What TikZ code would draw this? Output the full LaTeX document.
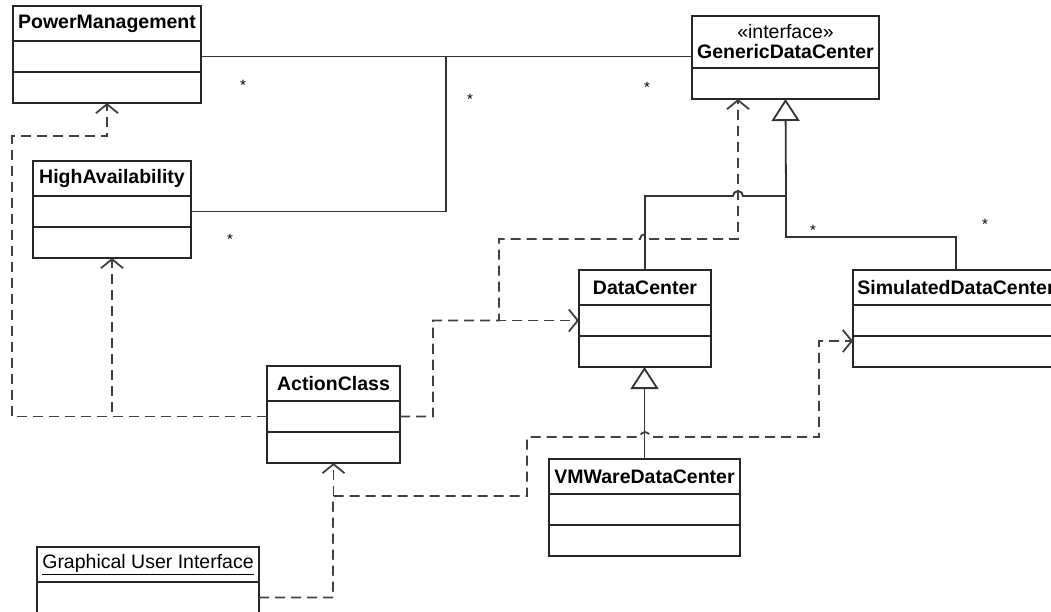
\documentclass[tikz,border=0pt]{standalone}
\usepackage{fontspec}
\setmainfont{Liberation Sans}
\usetikzlibrary{arrows.meta,positioning,calc}

\tikzset{
  cname/.style={draw=black!85, line width=1.9pt, fill=white, anchor=north west,
    minimum height=35pt, inner sep=0pt, outer sep=0pt,
    font=\fontsize{19.5}{21}\selectfont\bfseries},
  ccomp/.style={draw=black!85, line width=1.9pt, fill=white,
    minimum height=31pt, inner sep=0pt, outer sep=0pt},
  assoc/.style={draw=black!80, line width=1.8pt},
  gen/.style={assoc, -{Triangle[open, length=22pt, width=28pt, fill=white]}},
  dep/.style={draw=black!75, line width=1.8pt, dash pattern=on 10pt off 6pt,
    -{Straight Barb[length=9pt, width=22pt]}},
  mult/.style={font=\fontsize{15}{15}\selectfont, inner sep=0pt}
}

\begin{document}
\begin{tikzpicture}[x=1pt, y=1pt]

    \clip (0,0) rectangle (1051,-611);
    \fill[white] (0,0) rectangle (1051,-611);

    % classes
    \node[cname, minimum width=188pt] (pmT) at (13,-6) {PowerManagement};
    \node[ccomp, minimum width=188pt, below=0pt of pmT] (pmA) {};
    \node[ccomp, minimum width=188pt, below=0pt of pmA] (pmO) {};

    \node[cname, minimum width=158pt] (haT) at (33,-161) {HighAvailability};
    \node[ccomp, minimum width=158pt, below=0pt of haT] (haA) {};
    \node[ccomp, minimum width=158pt, below=0pt of haA] (haO) {};

    \node[cname, minimum width=187pt, minimum height=52pt, align=center] (gdcT) at (692,-16)
        {{\mdseries «interface»}\\[-1pt]GenericDataCenter};
    \node[ccomp, minimum width=187pt, below=0pt of gdcT] (gdcA) {};

    \node[cname, minimum width=132pt] (dcT) at (579,-270) {DataCenter};
    \node[ccomp, minimum width=132pt, below=0pt of dcT] (dcA) {};
    \node[ccomp, minimum width=132pt, below=0pt of dcA] (dcO) {};

    \node[cname, minimum width=206pt] (sdcT) at (853,-270) {SimulatedDataCenter};
    \node[ccomp, minimum width=206pt, below=0pt of sdcT] (sdcA) {};
    \node[ccomp, minimum width=206pt, below=0pt of sdcA] (sdcO) {};

    \node[cname, minimum width=133pt] (acT) at (267,-366) {ActionClass};
    \node[ccomp, minimum width=133pt, below=0pt of acT] (acA) {};
    \node[ccomp, minimum width=133pt, below=0pt of acA] (acO) {};

    \node[cname, minimum width=191pt] (vmT) at (549,-459) {VMWareDataCenter};
    \node[ccomp, minimum width=191pt, below=0pt of vmT] (vmA) {};
    \node[ccomp, minimum width=191pt, below=0pt of vmA] (vmO) {};

    \node[cname, minimum width=222pt, font=\fontsize{19.5}{21}\selectfont] (guiT) at (37,-547)
        {\underline{Graphical User Interface}};
    \node[ccomp, minimum width=222pt, below=0pt of guiT] (guiA) {};

    % bends
    \coordinate (assocJ) at (446,-56);
    \coordinate (genJ) at (786,-196);
    \coordinate (sdcJ) at (786,-237);
    \coordinate (depA) at (499,-239);
    \coordinate (depB) at (738,-239);
    \coordinate (lftJ) at (12,-136);
    \coordinate (guiJ) at (527,-437);

    % associations
    \draw[assoc] (pmA.east) -- (pmA.east -| gdcT.west);
    \draw[assoc] (haA.east) -| (assocJ);

    \node[mult] (m1) at (243,-85) {*};
    \node[mult] (m2) at (470,-99) {*};
    \node[mult] (m3) at (647,-87) {*};
    \node[mult] (m4) at (230,-239) {*};
    \node[mult] (m5) at (813,-230) {*};
    \node[mult] (m6) at (985,-224) {*};

    % generalizations
    \draw[gen] (dcT.north) |- (733,-196) arc[start angle=180, end angle=0, radius=5pt]
        -- (genJ) -- (gdcA.south);
    \draw[assoc] (sdcT.north) |- (sdcJ) -- (genJ);
    \draw[gen] (vmT.north) -- (vmT.north |- dcO.south);

    % dependencies
    \draw[dep] (acA.west) -| (haO.south);
    \draw[dep] (acA.west) -| (lftJ) -| (pmO.south);
    \draw[dep] (acA.east) -- ++(33,0) |- (dcA.west);
    \draw[dep] (acA.east) -- ++(33,0) |- (depA |- dcA.west) -- (depA)
        -- (640,-239) arc[start angle=180, end angle=0, radius=5pt]
        -- (depB) -- (depB |- gdcA.south);
    \draw[dep] (guiA.east) -| (acO.south);
    \draw[dep] (guiA.east) -| (333,-496) -| (guiJ)
        -- (640,-437) arc[start angle=180, end angle=0, radius=5pt]
        -- (819,-437) |- ($(sdcO.north west)+(0,-5)$);

\end{tikzpicture}
\end{document}
